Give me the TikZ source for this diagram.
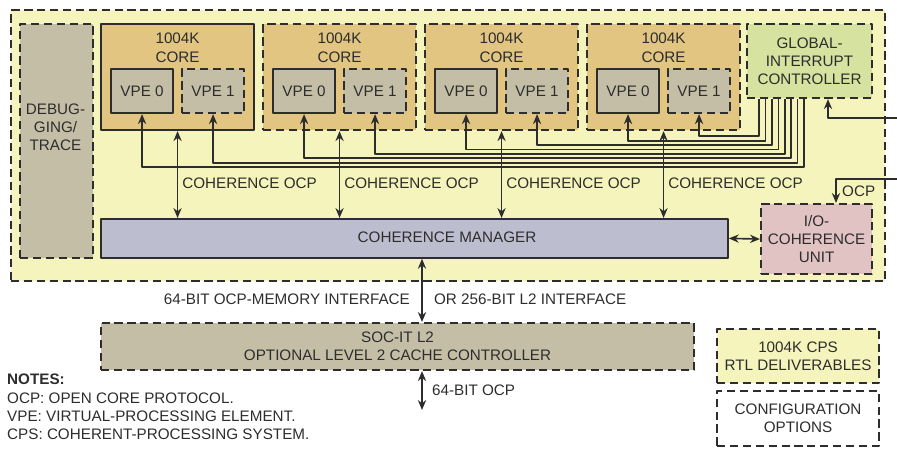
\documentclass[tikz,border=0pt]{standalone}
\usepackage{fontspec}
\setmainfont{Liberation Sans}
\usetikzlibrary{arrows.meta}
\definecolor{cpsyellow}{RGB}{244,244,188}
\definecolor{coretan}{RGB}{225,197,128}
\definecolor{vpegray}{RGB}{197,190,167}
\definecolor{gicgreen}{RGB}{213,226,160}
\definecolor{cmblue}{RGB}{189,189,208}
\definecolor{iopink}{RGB}{226,195,196}
\definecolor{ink}{RGB}{45,45,45}
\def\pxl{0.03cm}
\tikzset{
	blk/.style={draw=ink, line width=1.8pt, align=center, inner sep=0pt, anchor=north west},
	opt/.style={blk, dash pattern=on 7pt off 4pt},
	wire/.style={line width=1.4pt}
}
\begin{document}
\begin{tikzpicture}[x=0.03cm, y=-0.03cm, color=ink, font=\fontsize{13}{15.5}\selectfont, line join=round, >={Stealth[length=8.5pt,width=7pt]}]
	\useasboundingbox (0,0) rectangle (897,448);
	\node[opt, fill=cpsyellow, minimum width=874*\pxl, minimum height=271*\pxl] (cps) at (10,9) {};
	\node[opt, fill=vpegray, minimum width=73*\pxl, minimum height=234*\pxl] (dbg) at (19,23) {};
	\node[align=center, inner sep=0pt] (dbgt) at (55.5,127) {DEBUG-\\GING/\\TRACE};
	\foreach \i/\st in {0/blk,1/opt,2/opt,3/opt}{
		\node[\st, fill=coretan, minimum width=153*\pxl, minimum height=106*\pxl] (c\i) at ({100+162*\i},23) {};
		\node[anchor=north, align=center, inner sep=0pt, yshift=-10*\pxl, font=\fontsize{13}{16}\selectfont] (t\i) at (c\i.north) {1004K\\CORE};
		\node[blk, fill=vpegray, minimum width=62*\pxl, minimum height=44*\pxl] (v\i0) at ({110+162*\i},68) {VPE 0};
		\node[opt, fill=vpegray, minimum width=62*\pxl, minimum height=44*\pxl] (v\i1) at ({181+162*\i},68) {VPE 1};
	}
	\node[opt, fill=gicgreen, minimum width=125*\pxl, minimum height=74*\pxl] (gic) at (746,23) {GLOBAL-\\INTERRUPT\\CONTROLLER};
	\node[blk, line width=1.5pt, fill=cmblue, minimum width=627*\pxl, minimum height=39*\pxl] (cm) at (100,218) {};
	\node (cmt) at (447,237.5) {COHERENCE MANAGER};
	\node[opt, fill=iopink, minimum width=111*\pxl, minimum height=70*\pxl] (io) at (760,203) {I/O-\\COHERENCE\\UNIT};
	\node[opt, fill=vpegray, minimum width=593*\pxl, minimum height=47*\pxl] (l2) at (100,322) {SOC-IT L2\\OPTIONAL LEVEL 2 CACHE CONTROLLER};
	\node[opt, fill=cpsyellow, minimum width=162*\pxl, minimum height=54*\pxl] (rtl) at (716,328) {1004K CPS\\RTL DELIVERABLES};
	\node[opt, fill=white, minimum width=162*\pxl, minimum height=55*\pxl] (cfg) at (716,390) {CONFIGURATION\\OPTIONS};
	\foreach \i in {0,...,3}{
		\foreach \j in {0,1}{
			\pgfmathsetmacro\k{2*\i+\j}
			\draw[wire,->] ([xshift={(58-6.4*\k)*0.03cm}]gic.south west) |- ([yshift={-(53-4.4*\k)*0.03cm}]v\i\j.south) -- (v\i\j.south);
		}
		\draw[wire,<->] (c\i.south) -- (c\i.south |- cm.north) node[pos=0.6, right] (coh\i) {COHERENCE OCP};
	}
	\coordinate (irqin) at (897,118);
	\coordinate (ocpin) at (897,179);
	\coordinate (bus) at (422,0);
	\coordinate (ext) at (422,410);
	\draw[wire,->] (irqin) -| ([xshift=82*\pxl]gic.south west);
	\draw[wire,->] (ocpin) -| ([xshift=76*\pxl]io.north west);
	\draw[wire,<->] (cm.east) -- (io.west);
	\draw[wire,<->] (cm.south -| bus) -- (l2.north -| bus);
	\draw[wire,<->] (l2.south -| bus) -- (ext);
	\path
	(842,191) node[anchor=west, inner sep=0pt] (ocpl) {OCP}
	(414,299) node[anchor=east] (memif) {64-BIT OCP-MEMORY INTERFACE}
	(430,299) node[anchor=west] (l2if) {OR 256-BIT L2 INTERFACE}
	(428,390) node[anchor=west] (ocp64) {64-BIT OCP};
	\node[anchor=north west, align=left, inner sep=0pt] (notes) at (7,374) {\textbf{NOTES:}\\OCP: OPEN CORE PROTOCOL.\\VPE: VIRTUAL-PROCESSING ELEMENT.\\CPS: COHERENT-PROCESSING SYSTEM.};
\end{tikzpicture}
\end{document}
